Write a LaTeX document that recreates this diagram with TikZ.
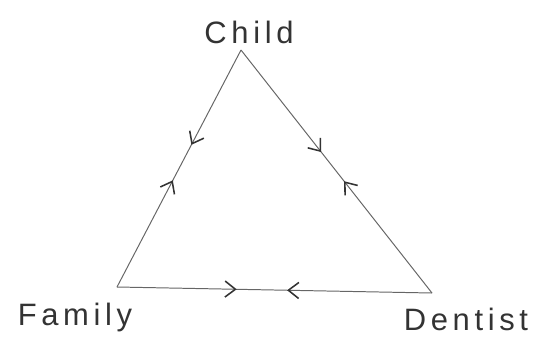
\documentclass[tikz,border=0pt]{standalone}
\usepackage{fontspec}
\newfontfamily\handfont[LetterSpace=15]{Liberation Sans}
\usetikzlibrary{arrows.meta,decorations.markings,positioning}

\begin{document}
\begin{tikzpicture}[x=0.025cm, y=-0.025cm,
 vlabel/.style={font=\handfont\fontsize{22}{24}\selectfont, text=black!80, inner sep=0pt},
 tip/.style={line width=1.1pt, black!80},
 side/.style 2 args={draw=black!60, line width=0.7pt, postaction={decorate},
 decoration={markings,
  mark=at position #1 with {\arrow[tip]{Straight Barb[length=2.6mm,width=4mm]}},
  mark=at position #2 with {\arrowreversed[tip]{Straight Barb[length=2.6mm,width=4mm]}}}}]
\useasboundingbox (0,0) rectangle (533,338);
\coordinate (child) at (241,50);
\coordinate (family) at (117,287);
\coordinate (dentist) at (432,293);
\node[vlabel, above=1.5mm of child, xshift=2mm] (childtext) {Child};
\node[vlabel, below=4mm of family, xshift=-10.5mm] (familytext) {Family};
\node[vlabel, below=3.8mm of dentist, xshift=8.5mm] (dentisttext) {Dentist};
\draw[side={0.40}{0.55}] (child) -- (family);
\draw[side={0.42}{0.54}] (child) -- (dentist);
\draw[side={0.38}{0.54}] (family) -- (dentist);
\end{tikzpicture}
\end{document}
